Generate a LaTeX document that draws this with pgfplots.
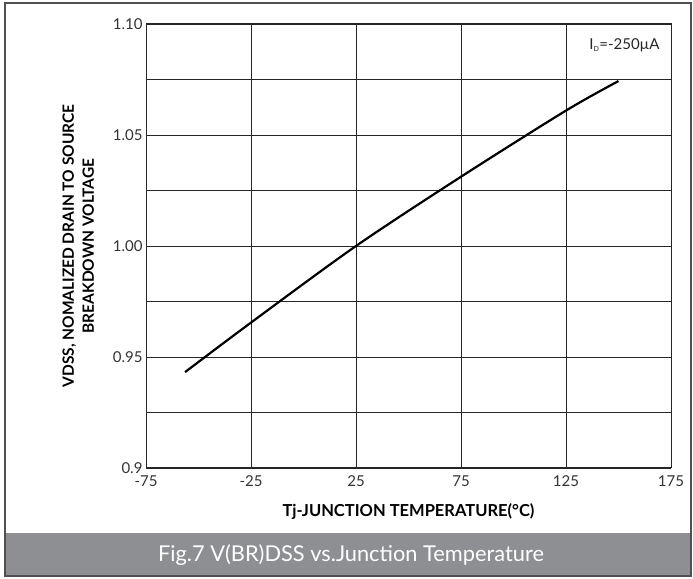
\documentclass[border=0pt]{standalone}
\usepackage{fontspec}
\setmainfont{Lato}
\usepackage{pgfplots}
\pgfplotsset{compat=1.18}
\definecolor{band}{HTML}{8E8F93}
\definecolor{frame}{HTML}{505050}
\begin{document}
\begin{tikzpicture}[x=1pt,y=1pt]
\fill[white] (0,0) rectangle (693,578);
\fill[band] (5,2) rectangle (691,45);
\draw[frame,line width=1.3pt] (5,2) rectangle (691,575);
\node[white,font=\fontsize{21.8}{24}\selectfont] at (351,23) {Fig.7 V(BR)DSS vs.Junction Temperature};
\begin{axis}[
  at={(146pt,110pt)}, anchor=south west,
  scale only axis, width=525pt, height=444pt,
  xmin=-75, xmax=175, ymin=0.9, ymax=1.1,
  xtick={-75,-25,25,75,125,175},
  ytick={0.9,0.95,1,1.05,1.1},
  yticklabels={0.9,0.95,1.00,1.05,1.10},
  minor ytick={0.925,0.975,1.025,1.075},
  grid=both,
  major grid style={black!85,line width=0.8pt},
  minor grid style={black!85,line width=0.8pt},
  axis line style={black!85,line width=1pt},
  major tick length=0pt, minor tick length=0pt,
  /pgf/number format/assume math mode=true,
  tick label style={font=\fontsize{15}{17}\selectfont, black!80},
  xticklabel style={yshift=-4pt},
  xlabel={\textbf{Tj-JUNCTION TEMPERATURE(°C)}},
  xlabel style={font=\fontsize{16.5}{18}\selectfont, yshift=-10pt},
  ylabel={\textbf{VDSS, NOMALIZED DRAIN TO SOURCE}\\\textbf{BREAKDOWN VOLTAGE}},
  ylabel style={font=\fontsize{15.5}{20}\selectfont, align=center, yshift=12pt},
]
\addplot[black, line width=2.2pt, smooth] coordinates {
(-56.4,0.9432) (-25,0.9655) (25,1.0000) (75,1.0312) (125,1.0610) (150,1.0743)
};
\node[anchor=north east, font=\fontsize{15}{17}\selectfont, black!85] at (rel axis cs:0.985,0.975) {I\textsubscript{\fontsize{7}{8}\selectfont D}=-250µA};
\end{axis}
\end{tikzpicture}
\end{document}
